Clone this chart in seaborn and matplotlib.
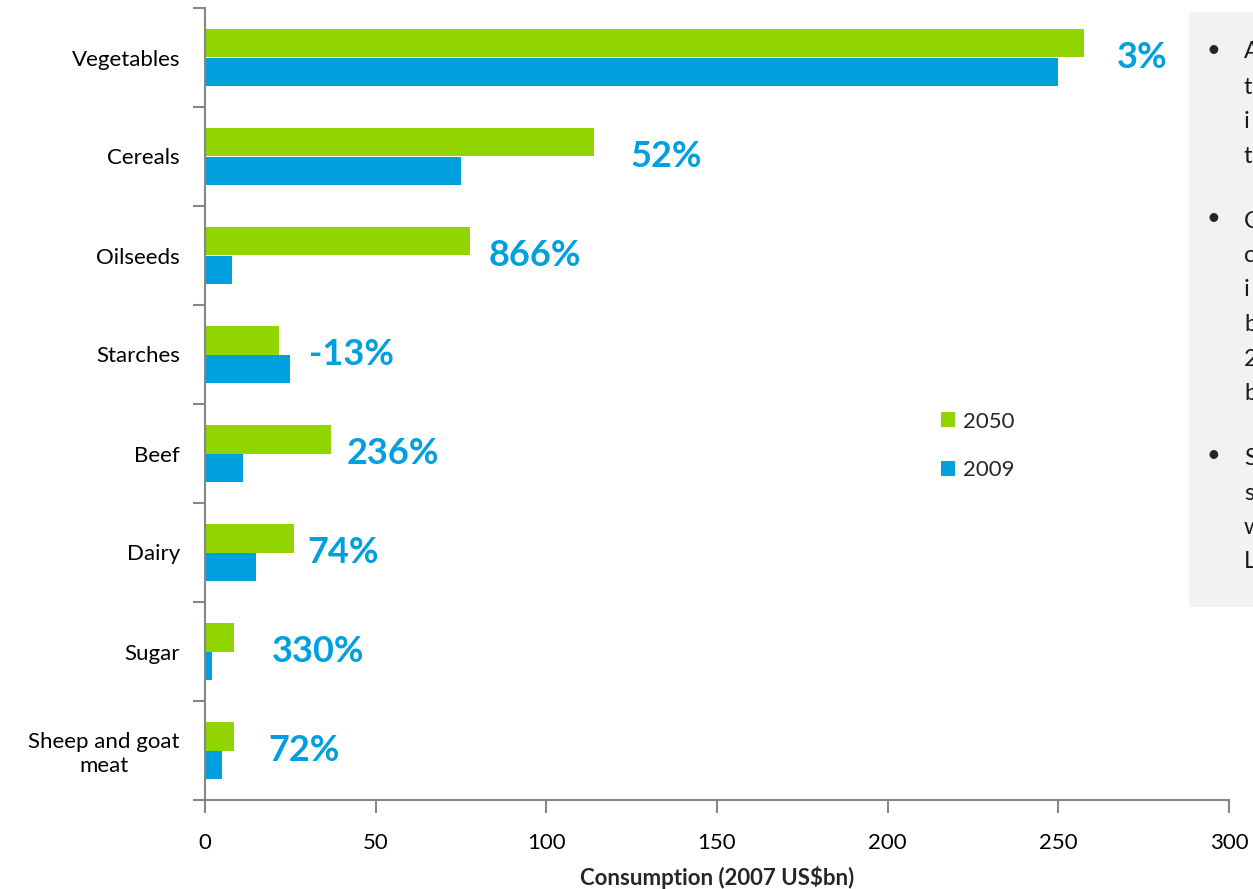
import matplotlib
matplotlib.use("Agg")
import matplotlib.pyplot as plt
import matplotlib.patches as mpatches
import seaborn as sns
import pandas as pd
import numpy as np

categories = ["Vegetables", "Cereals", "Oilseeds", "Starches", "Beef", "Dairy", "Sugar", "Sheep and goat\nmeat"]
values_2050 = [257.5, 114, 77.5, 21.7, 37, 26, 8.6, 8.6]
values_2009 = [250, 75, 8, 25, 11, 15, 2, 5]
growth_labels = ["3%", "52%", "866%", "-13%", "236%", "74%", "330%", "72%"]
label_x = [267, 124.5, 83, 30.5, 41.5, 30, 19.5, 18.5]
series = ["2050", "2009"]
x_ticks = [0, 50, 100, 150, 200, 250, 300]

GREEN = "#92D400"
BLUE = "#00A0DF"
GRAY = "#868686"

df = pd.DataFrame({
    "category": categories * 2,
    "value": values_2050 + values_2009,
    "year": [series[0]] * len(categories) + [series[1]] * len(categories),
})

sns.set_theme(style="white")
plt.rcParams["font.family"] = ["Lato", "DejaVu Sans"]

W, H = 1253, 889
fig = plt.figure(figsize=(W / 100, H / 100), dpi=100)
ax = fig.add_axes([205 / W, 1 - 800 / H, (1229 - 205) / W, (800 - 8) / H])

sns.barplot(data=df, y="category", x="value", hue="year", hue_order=series,
            palette=[GREEN, BLUE], orient="h", width=0.57, gap=0,
            saturation=1, ax=ax, legend=True, linewidth=0)

ax.set_xlim(0, 300)
ax.set_ylim(len(categories) - 0.5, -0.5)
ax.set_xticks(x_ticks)
ax.set_xticklabels([str(t) for t in x_ticks], fontsize=16)
ax.set_yticks(range(len(categories)))
ax.set_yticklabels(categories, fontsize=16, multialignment="center", linespacing=1.25)
ax.set_yticks(np.arange(-0.5, len(categories), 1), minor=True)
ax.tick_params(axis="y", which="major", length=0, pad=18)
ax.tick_params(axis="y", which="minor", length=9, width=1.5, left=True)
ax.tick_params(axis="x", which="major", length=9, width=1.5, bottom=True, pad=15)
ax.tick_params(axis="x", which="both", colors=GRAY, labelcolor="black")
ax.tick_params(axis="y", which="both", colors=GRAY, labelcolor="black")
ax.set_ylabel("")
ax.set_xlabel("Consumption (2007 US\\$bn)", fontsize=16, fontweight="bold", labelpad=9)

for side in ["top", "right"]:
    ax.spines[side].set_visible(False)
for side in ["left", "bottom"]:
    ax.spines[side].set_color(GRAY)
    ax.spines[side].set_linewidth(1.5)

for i, (lab, lx) in enumerate(zip(growth_labels, label_x)):
    ax.text(lx, i, lab, color=BLUE, fontsize=26, fontweight="bold", va="center", ha="left")

leg = ax.legend(loc="center left", bbox_to_anchor=(0.699, 0.447), frameon=False,
                fontsize=16, handlelength=0.65, handleheight=0.65, handletextpad=0.35,
                labelspacing=1.3)

# side text panel, clipped by the figure edge as in the original
fig.add_artist(mpatches.Rectangle((1189 / W, 1 - 607 / H), (W - 1189) / W + 0.01, (607 - 12) / H,
                                  transform=fig.transFigure, facecolor="#F2F2F2",
                                  edgecolor="none", zorder=5))
bullet_rows = [50, 218, 456]
for by in bullet_rows:
    fig.text(1213 / W, 1 - by / H, "•", fontsize=17, va="center", ha="center", zorder=6)
panel_letters = [("A", 52), ("t", 87), ("i", 121), ("t", 156),
                 ("C", 221), ("c", 256), ("i", 290), ("b", 325), ("2", 359), ("b", 393),
                 ("S", 459), ("s", 494), ("w", 528), ("L", 562)]
for ch, py in panel_letters:
    fig.text(1244 / W, 1 - py / H, ch, fontsize=17, va="center", ha="left", zorder=6,
             color="#1a1a1a")

fig.savefig("out.png", dpi=100)
